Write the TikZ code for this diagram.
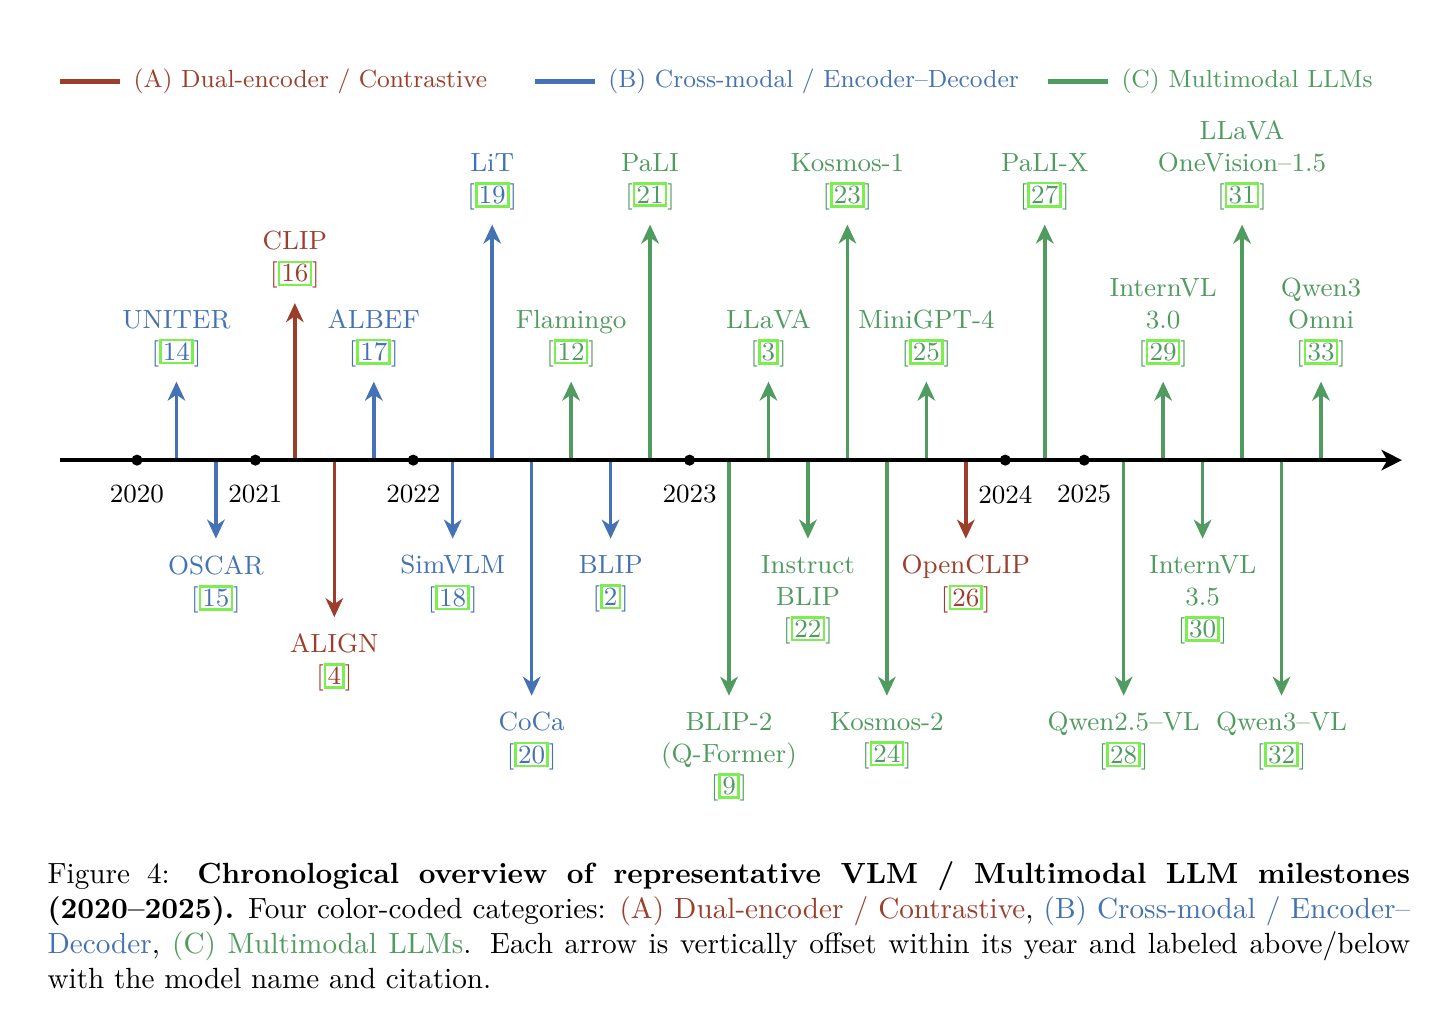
\documentclass[tikz,border=0pt]{standalone}
\usetikzlibrary{arrows.meta,positioning}

\definecolor{catA}{RGB}{156,62,43}
\definecolor{catB}{RGB}{68,114,180}
\definecolor{catC}{RGB}{80,155,95}
\definecolor{citegreen}{RGB}{125,238,80}

\newcommand{\cit}[1]{[{\fboxsep=0.4pt\fboxrule=0.9pt\fcolorbox{citegreen}{white}{#1}}]}

\tikzset{
  timeline/.style={line width=1.4pt,-{Stealth[length=7pt,width=7pt,inset=2pt]}},
  milestone/.style={line width=1.2pt,-{Stealth[length=6.5pt,width=6pt,inset=2pt]}},
  labelup/.style={anchor=south,align=center,font=\small,outer sep=1.7pt},
  labeldown/.style={anchor=north,align=center,font=\small,outer sep=2.4pt},
  yeardot/.style={circle,fill=black,inner sep=0pt,minimum size=3.8pt},
  yearlabel/.style={below=6.3pt of #1,inner sep=0pt,font=\small},
  legline/.style={line width=1.5pt},
  legtext/.style={anchor=west,inner sep=0pt,font=\fontsize{8.5pt}{10pt}\selectfont}
}

\begin{document}
\begin{tikzpicture}[x=0.475cm,y=0.945cm]
	\useasboundingbox (-3.471,-7.019) rectangle (33.04,5.86);
	\coordinate (ax) at (0,0);
	% legend
	\node[legtext,catA] (legA) at (-0.1,4.82) {(A) Dual-encoder / Contrastive};
	\node[legtext,catB] (legB) at (11.93,4.82) {(B) Cross-modal / Encoder--Decoder};
	\node[legtext,catC] (legC) at (24.93,4.82) {(C) Multimodal LLMs};
	\draw[legline,catA] ([xshift=-25pt]legA.west) -- ([xshift=-4.5pt]legA.west);
	\draw[legline,catB] ([xshift=-25pt]legB.west) -- ([xshift=-4.5pt]legB.west);
	\draw[legline,catC] ([xshift=-25pt]legC.west) -- ([xshift=-4.5pt]legC.west);
	% above the axis
	\node[labelup,catB] (uniter) at (1,1) {UNITER\\\cit{14}};
	\node[labelup,catA] (clip) at (4,2) {CLIP\\\cit{16}};
	\node[labelup,catB] (albef) at (6,1) {ALBEF\\\cit{17}};
	\node[labelup,catB] (lit) at (9,3) {LiT\\\cit{19}};
	\node[labelup,catC] (flamingo) at (11,1) {Flamingo\\\cit{12}};
	\node[labelup,catC] (pali) at (13,3) {PaLI\\\cit{21}};
	\node[labelup,catC] (llava) at (16,1) {LLaVA\\\cit{3}};
	\node[labelup,catC] (kosmos1) at (18,3) {Kosmos-1\\\cit{23}};
	\node[labelup,catC] (minigpt) at (20,1) {MiniGPT-4\\\cit{25}};
	\node[labelup,catC] (palix) at (23,3) {PaLI-X\\\cit{27}};
	\node[labelup,catC] (internvlA) at (26,1) {InternVL\\3.0\\\cit{29}};
	\node[labelup,catC] (llavaov) at (28,3) {LLaVA\\OneVision--1.5\\\cit{31}};
	\node[labelup,catC] (qwenomni) at (30,1) {Qwen3\\Omni\\\cit{33}};
	% below the axis
	\node[labeldown,catB] (oscar) at (2,-1) {OSCAR\\\cit{15}};
	\node[labeldown,catA] (align) at (5,-2) {ALIGN\\\cit{4}};
	\node[labeldown,catB] (simvlm) at (8,-1) {SimVLM\\\cit{18}};
	\node[labeldown,catB] (coca) at (10,-3) {CoCa\\\cit{20}};
	\node[labeldown,catB] (blip) at (12,-1) {BLIP\\\cit{2}};
	\node[labeldown,catC] (blipii) at (15,-3) {BLIP-2\\(Q-Former)\\\cit{9}};
	\node[labeldown,catC] (instructblip) at (17,-1) {Instruct\\BLIP\\\cit{22}};
	\node[labeldown,catC] (kosmos2) at (19,-3) {Kosmos-2\\\cit{24}};
	\node[labeldown,catA] (openclip) at (21,-1) {OpenCLIP\\\cit{26}};
	\node[labeldown,catC] (qwenvlA) at (25,-3) {Qwen2.5--VL\\\cit{28}};
	\node[labeldown,catC] (internvlB) at (27,-1) {InternVL\\3.5\\\cit{30}};
	\node[labeldown,catC] (qwenvlB) at (29,-3) {Qwen3--VL\\\cit{32}};
	% arrows
	\draw[milestone,catB] (uniter.south |- ax) -- (uniter.south);
	\draw[milestone,catA] (clip.south |- ax) -- (clip.south);
	\draw[milestone,catB] (albef.south |- ax) -- (albef.south);
	\draw[milestone,catB] (lit.south |- ax) -- (lit.south);
	\draw[milestone,catC] (flamingo.south |- ax) -- (flamingo.south);
	\draw[milestone,catC] (pali.south |- ax) -- (pali.south);
	\draw[milestone,catC] (llava.south |- ax) -- (llava.south);
	\draw[milestone,catC] (kosmos1.south |- ax) -- (kosmos1.south);
	\draw[milestone,catC] (minigpt.south |- ax) -- (minigpt.south);
	\draw[milestone,catC] (palix.south |- ax) -- (palix.south);
	\draw[milestone,catC] (internvlA.south |- ax) -- (internvlA.south);
	\draw[milestone,catC] (llavaov.south |- ax) -- (llavaov.south);
	\draw[milestone,catC] (qwenomni.south |- ax) -- (qwenomni.south);
	\draw[milestone,catB] (oscar.north |- ax) -- (oscar.north);
	\draw[milestone,catA] (align.north |- ax) -- (align.north);
	\draw[milestone,catB] (simvlm.north |- ax) -- (simvlm.north);
	\draw[milestone,catB] (coca.north |- ax) -- (coca.north);
	\draw[milestone,catB] (blip.north |- ax) -- (blip.north);
	\draw[milestone,catC] (blipii.north |- ax) -- (blipii.north);
	\draw[milestone,catC] (instructblip.north |- ax) -- (instructblip.north);
	\draw[milestone,catC] (kosmos2.north |- ax) -- (kosmos2.north);
	\draw[milestone,catA] (openclip.north |- ax) -- (openclip.north);
	\draw[milestone,catC] (qwenvlA.north |- ax) -- (qwenvlA.north);
	\draw[milestone,catC] (internvlB.north |- ax) -- (internvlB.north);
	\draw[milestone,catC] (qwenvlB.north |- ax) -- (qwenvlB.north);
	% axis and years
	\coordinate (start) at (-1.95,0);
	\coordinate (end) at (32.05,0);
	\draw[timeline] (start) -- (end);
	\node[yeardot] (y2020) at (0,0) {};
	\node[yeardot] (y2021) at (3,0) {};
	\node[yeardot] (y2022) at (7,0) {};
	\node[yeardot] (y2023) at (14,0) {};
	\node[yeardot] (y2024) at (22,0) {};
	\node[yeardot] (y2025) at (24,0) {};
	\node[yearlabel=y2020] {2020};
	\node[yearlabel=y2021] {2021};
	\node[yearlabel=y2022] {2022};
	\node[yearlabel=y2023] {2023};
	\node[yearlabel=y2024] {2024};
	\node[yearlabel=y2025] {2025};
	% caption
	\node[anchor=north west,inner sep=0pt,text width=16.4cm,align=justify] (caption) at (-2.28,-5.11) {Figure 4: \textbf{Chronological overview of representative VLM / Multimodal LLM milestones\linebreak (2020--2025).} Four color-coded categories: \textcolor{catA}{(A) Dual-encoder / Contrastive}, \textcolor{catB}{(B) Cross-modal / Encoder--\linebreak Decoder}, \textcolor{catC}{(C) Multimodal LLMs}. Each arrow is vertically offset within its year and labeled above/below\linebreak with the model name and citation.};
\end{tikzpicture}
\end{document}
